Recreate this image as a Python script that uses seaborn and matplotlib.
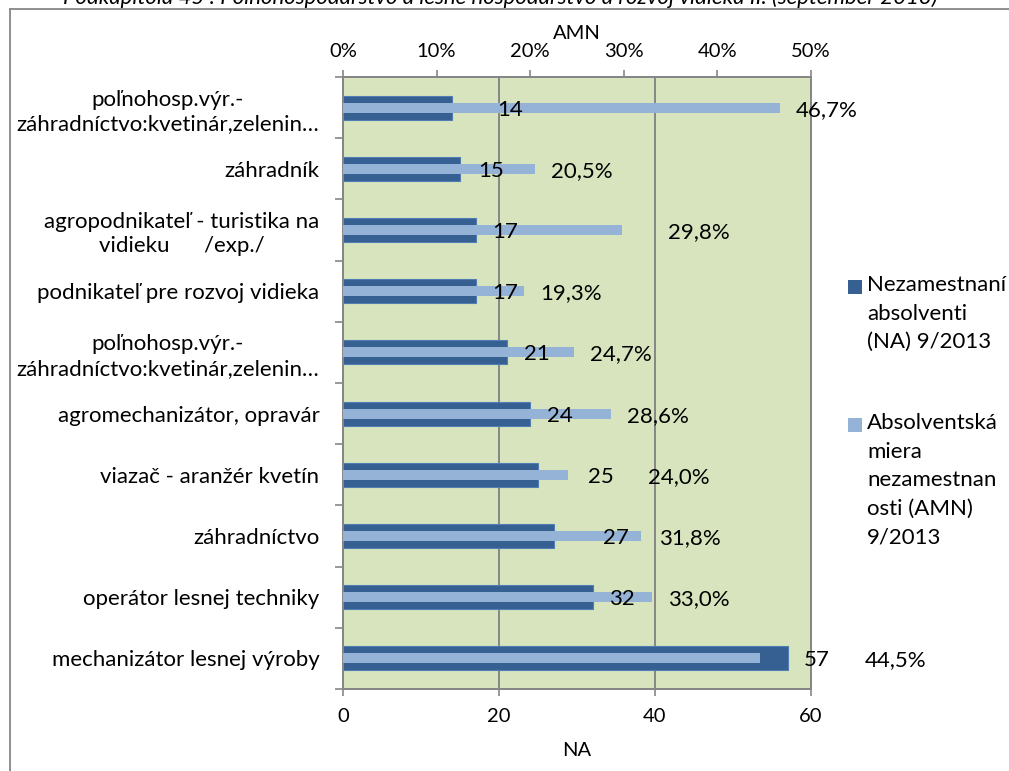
import matplotlib
matplotlib.use("Agg")
import matplotlib.pyplot as plt
import seaborn as sns
import pandas as pd
import numpy as np
from matplotlib.patches import Rectangle
from matplotlib.lines import Line2D

# ---- data -------------------------------------------------------------
categories = [
    "poľnohosp.výr.-\nzáhradníctvo:kvetinár,zelenin…",
    "záhradník",
    "agropodnikateľ - turistika na\nvidieku      /exp./",
    "podnikateľ pre rozvoj vidieka",
    "poľnohosp.výr.-\nzáhradníctvo:kvetinár,zelenin…",
    "agromechanizátor, opravár",
    "viazač - aranžér kvetín",
    "záhradníctvo",
    "operátor lesnej techniky",
    "mechanizátor lesnej výroby",
]
na_values = [14, 15, 17, 17, 21, 24, 25, 27, 32, 57]
amn_values = [46.7, 20.5, 29.8, 19.3, 24.7, 28.6, 24.0, 31.8, 33.0, 44.5]
na_ticks = [0, 20, 40, 60]
amn_ticks = [0, 10, 20, 30, 40, 50]
na_tick_labels = ["0", "20", "40", "60"]
amn_tick_labels = ["0%", "10%", "20%", "30%", "40%", "50%"]
legend_labels = [
    "Nezamestnaní\nabsolventi\n(NA) 9/2013",
    "Absolventská\nmiera\nnezamestnan\nosti (AMN)\n9/2013",
]
title = ("Podkapitola 45 : Poľnohospodárstvo a lesné hospodárstvo a rozvoj "
         "vidieka II. (september 2013)")

# horizontal nudges (pixels) of the value labels to keep them apart
na_label_shift = [45, 18, 17, 17, 17, 17, 50, 49, 16, 16]
amn_label_shift = [16, 16, 46, 17, 16, 16, 80, 18, 16, 105]

# ---- style ------------------------------------------------------------
DARK = "#376092"
LIGHT = "#95B3D7"
PLOT_BG = "#D7E4BD"
GRAY = "#868686"

sns.set_theme(style="white")
plt.rcParams["font.family"] = ["Lato", "DejaVu Sans"]
plt.rcParams["text.color"] = "black"
plt.rcParams["axes.labelcolor"] = "black"
plt.rcParams["xtick.color"] = "black"
plt.rcParams["ytick.color"] = "black"

W, H = 1009, 771
fig = plt.figure(figsize=(W / 100, H / 100), dpi=100)
fig.patch.set_facecolor("white")

x0, x1, y0, y1 = 343, 811, 77, 689
ax = fig.add_axes([x0 / W, 1 - y1 / H, (x1 - x0) / W, (y1 - y0) / H])
ax.set_facecolor(PLOT_BG)
ax2 = ax.twiny()

df = pd.DataFrame({
    "row": list(range(len(categories))),
    "NA": na_values,
    "AMN": amn_values,
})
order = list(range(len(categories)))

sns.barplot(data=df, y="row", x="NA", orient="h", order=order, color=DARK,
            saturation=1, width=0.39, edgecolor="#4F7DB4", linewidth=0.8,
            ax=ax, zorder=2)
sns.barplot(data=df, y="row", x="AMN", orient="h", order=order, color=LIGHT,
            saturation=1, width=0.165, linewidth=0, ax=ax2, zorder=3)

ax.set_xlim(0, 60)
ax2.set_xlim(0, 50)
ax.set_ylim(len(categories) - 0.5, -0.5)

# category axis
ax.set_yticks(order)
ax.set_yticklabels(categories, fontsize=16, multialignment="center",
                   linespacing=1.27)
ax.set_yticks(np.arange(-0.5, len(categories), 1), minor=True)
ax.tick_params(axis="y", which="major", length=0, pad=17, left=True)
ax.tick_params(axis="y", which="minor", length=6, width=1.2, color=GRAY,
               direction="out", left=True)
ax.set_ylabel("")

# NA axis (bottom)
ax.set_xticks(na_ticks)
ax.set_xticklabels(na_tick_labels, fontsize=14.5)
ax.tick_params(axis="x", which="major", length=5, width=1.2, color=GRAY,
               direction="out", bottom=True, pad=9)
ax.set_xlabel("NA", fontsize=14.5, labelpad=12)
ax.xaxis.grid(True, color=GRAY, linewidth=1.4)
ax.yaxis.grid(False)
ax.set_axisbelow(True)

# AMN axis (top)
ax2.set_xticks(amn_ticks)
ax2.set_xticklabels(amn_tick_labels, fontsize=14.5)
ax2.tick_params(axis="x", which="major", length=5, width=1.2, color=GRAY,
                direction="out", top=True, pad=7)
ax2.set_xlabel("AMN", fontsize=14.5, labelpad=3)
ax2.grid(False)

for a in (ax, ax2):
    for sp in a.spines.values():
        sp.set_visible(True)
        sp.set_color(GRAY)
        sp.set_linewidth(1.3)

# value labels
for i, (v, s) in enumerate(zip(na_values, na_label_shift)):
    ax2.annotate(f"{v}", xy=(v, i), xycoords=ax.transData,
                 xytext=(s, -2), textcoords="offset pixels",
                 ha="left", va="center", fontsize=16, annotation_clip=False,
                 zorder=5)
for i, (v, s) in enumerate(zip(amn_values, amn_label_shift)):
    ax2.annotate(f"{v:.1f}%".replace(".", ","), xy=(v, i), xycoords="data",
                 xytext=(s, -2), textcoords="offset pixels",
                 ha="left", va="center", fontsize=16, annotation_clip=False,
                 zorder=5)

# legend
legend_rows = [(287, DARK), (425, LIGHT)]
for (yc, col), lab in zip(legend_rows, legend_labels):
    fig.add_artist(Rectangle((848 / W, 1 - (yc + 7) / H), 14 / W, 14 / H,
                             transform=fig.transFigure, facecolor=col,
                             edgecolor="none"))
    fig.text(867 / W, 1 - (yc - 12) / H, lab, fontsize=16, va="top",
             ha="left", linespacing=1.54)

# outer frame and cropped heading
fig.add_artist(Line2D([10 / W, 10 / W], [0, 1 - 9 / H],
                      transform=fig.transFigure, color=GRAY, linewidth=1.3))
fig.add_artist(Line2D([10 / W, 1], [1 - 9 / H, 1 - 9 / H],
                      transform=fig.transFigure, color=GRAY, linewidth=1.3))
fig.text(500 / W, 1 - 4 / H, title, fontsize=16, style="italic",
         ha="center", va="baseline")

fig.savefig("out.png", dpi=100, facecolor="white")
